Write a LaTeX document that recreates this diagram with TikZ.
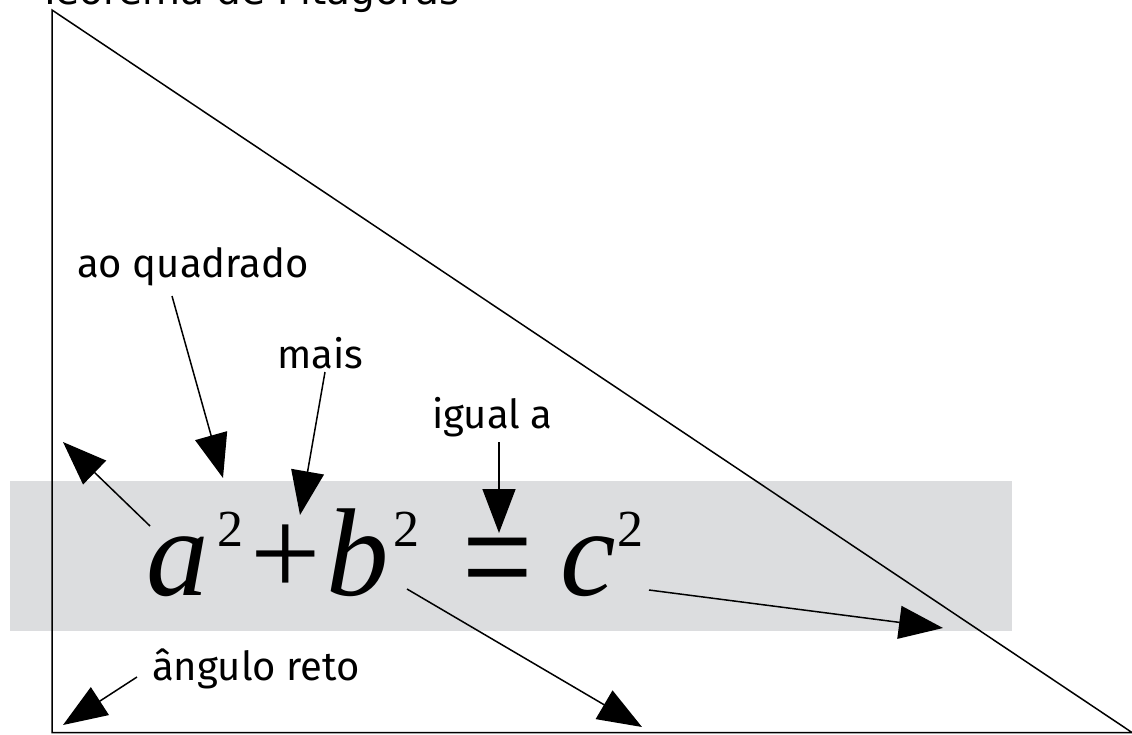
\documentclass[tikz,border=0pt]{standalone}
\usepackage{fontspec}
\setmainfont{Liberation Serif}
\newfontfamily\labelfont{Fira Sans}
\newfontfamily\titlefont{DejaVu Sans}
\usetikzlibrary{arrows.meta}
\definecolor{band}{HTML}{DCDDDF}
\tikzset{
  lbl/.style={anchor=base west, inner sep=0pt, font=\labelfont\fontsize{40}{44}\selectfont},
  eqlet/.style={anchor=base west, inner sep=0pt, font=\itshape\fontsize{125}{130}\selectfont},
  eqsym/.style={anchor=base west, inner sep=0pt, font=\fontsize{125}{130}\selectfont},
  eqsup/.style={anchor=base west, inner sep=0pt, font=\fontsize{52}{56}\selectfont},
  thinline/.style={line width=1.5pt},
  pointer/.style={line width=1.5pt, -{Triangle[length=44pt,width=33pt]}}
}
\begin{document}
\begin{tikzpicture}[x=1pt,y=-1pt]
\useasboundingbox (0,0) rectangle (1132,734);
\clip (0,0) rectangle (1132,734);
% gray band
\fill[band] (10,481) rectangle (1012,631);
% triangle
\draw[thinline, line join=miter] (52,10) -- (52,732.5) -- (1132,732.5) -- cycle;
% title
\node[anchor=base west, inner sep=0pt, font=\titlefont\fontsize{39}{44}\selectfont] (title) at (38,4) {Teorema de Pitágoras};
% equation
\node[eqlet] (a) at (146,595) {a};
\node[eqsup] (a2) at (217,546) {2};
\node[eqsym] (plus) at (250,595) {+};
\node[eqlet] (b) at (326,595) {b};
\node[eqsup] (b2) at (393,546) {2};
\node[eqsym] (eq) at (462,609) {\scalebox{1}[1.25]{=}};
\node[eqlet] (c) at (560,595) {c};
\node[eqsup] (c2) at (617,546) {2};
% labels
\node[lbl] (aoq) at (77,277) {ao quadrado};
\node[lbl] (mais) at (277,368) {mais};
\node[lbl] (igual) at (432,428) {igual a};
\node[lbl] (ang) at (152,680) {ângulo reto};
% arrow ends
\coordinate (t1) at (172,296); \coordinate (h1) at (223,478);
\coordinate (t2) at (325,372); \coordinate (h2) at (300,515);
\coordinate (t3) at (150,526); \coordinate (h3) at (63,442);
\coordinate (t4) at (499,442); \coordinate (h4) at (499,533);
\coordinate (t5) at (407,589); \coordinate (h5) at (642,727);
\coordinate (t6) at (649,590); \coordinate (h6) at (943,628);
\coordinate (t7) at (137,677); \coordinate (h7) at (63,725);
\draw[pointer] (t1) -- (h1);
\draw[pointer] (t2) -- (h2);
\draw[pointer] (t3) -- (h3);
\draw[pointer] (t4) -- (h4);
\draw[pointer] (t5) -- (h5);
\draw[pointer] (t6) -- (h6);
\draw[pointer] (t7) -- (h7);
\end{tikzpicture}
\end{document}
